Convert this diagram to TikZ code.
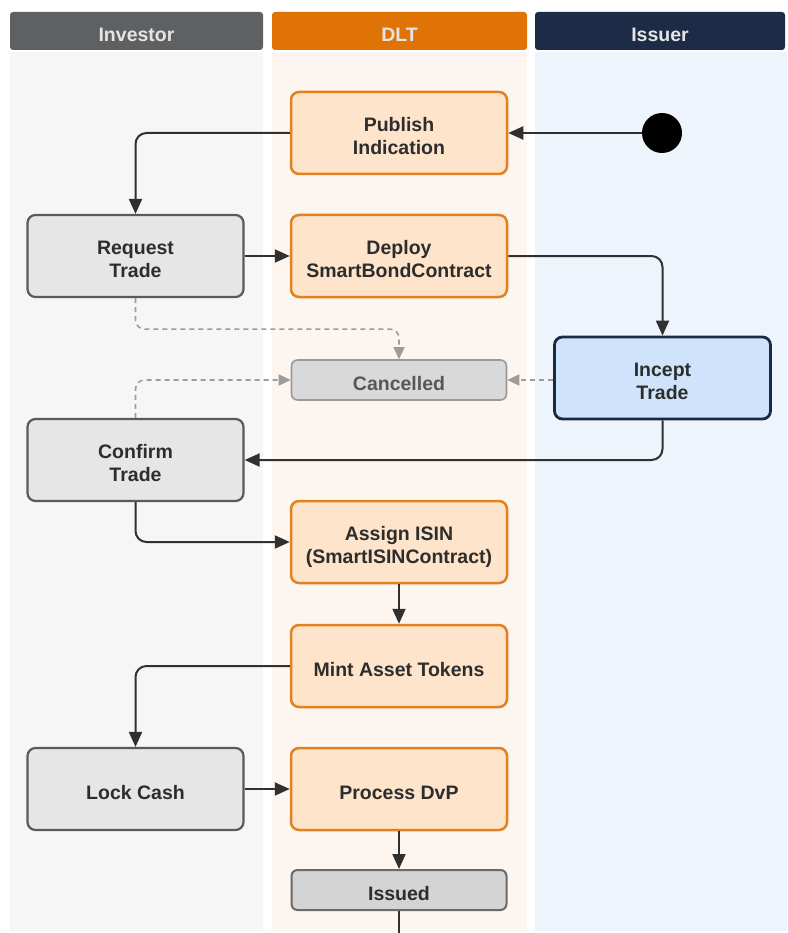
\documentclass[tikz,border=0pt]{standalone}
\usepackage{fontspec}
\setmainfont{Liberation Sans}
\usetikzlibrary{arrows.meta}

\definecolor{invhead}{HTML}{5F6062}
\definecolor{dlthead}{HTML}{E07306}
\definecolor{isshead}{HTML}{1C2B46}
\definecolor{invlane}{HTML}{F6F6F7}
\definecolor{dltlane}{HTML}{FDF5F0}
\definecolor{isslane}{HTML}{EEF4FC}
\definecolor{orfill}{HTML}{FDE4CA}
\definecolor{ordraw}{HTML}{E2821E}
\definecolor{gyfill}{HTML}{E6E6E6}
\definecolor{gydraw}{HTML}{5A5A5A}
\definecolor{cnfill}{HTML}{D9D9D9}
\definecolor{cndraw}{HTML}{9A9A9A}
\definecolor{bufill}{HTML}{CFE4FB}
\definecolor{budraw}{HTML}{1B2A40}
\definecolor{isfill}{HTML}{D4D4D4}
\definecolor{isdraw}{HTML}{6A6A6A}
\definecolor{wire}{HTML}{303030}
\definecolor{dwire}{HTML}{9C9C9C}
\definecolor{ink}{HTML}{2D2D2D}

% centred label, set a little below the geometric middle of its box
\newcommand\lbl[1]{\raisebox{-5.5pt}[\height][\depth]{\begin{tabular}{@{}c@{}}#1\end{tabular}}}

\tikzset{
  x=1pt, y=-1pt,
  txt/.style={font=\bfseries\fontsize{19.5}{23}\selectfont, text=ink},
  lanehead/.style={txt, rounded corners=3pt, minimum height=38pt, text=white!90!black, inner sep=0pt},
  box/.style={txt, rounded corners=8pt, minimum width=216pt, minimum height=82pt, inner sep=0pt},
  dltbox/.style={box, fill=orfill, draw=ordraw, line width=2.5pt},
  invbox/.style={box, fill=gyfill, draw=gydraw, line width=2.2pt},
  issbox/.style={box, fill=bufill, draw=budraw, line width=2.8pt},
  endstate/.style={txt, rounded corners=6pt, minimum width=215pt, minimum height=40pt, inner sep=0pt},
  flow/.style={draw=wire, line width=2pt, rounded corners=11pt, -{Triangle[length=15pt,width=13pt]}},
  dflow/.style={draw=dwire, line width=1.6pt, dash pattern=on 5pt off 4pt, rounded corners=9pt, -{Triangle[length=12pt,width=11pt]}},
}

\begin{document}
\begin{tikzpicture}
\useasboundingbox (0,0) rectangle (787,933);

% swimlane backgrounds
\fill[invlane] (10,52) rectangle (263,931);
\fill[dltlane] (272,52) rectangle (527,931);
\fill[isslane] (535,52) rectangle (787,931);

% swimlane headers
\node[lanehead, fill=invhead, minimum width=253pt] (hinv) at (136.5,31) {\lbl{Investor}};
\node[lanehead, fill=dlthead, minimum width=255pt] (hdlt) at (399.5,31) {\lbl{DLT}};
\node[lanehead, fill=isshead, minimum width=250pt] (hiss) at (660,31) {\lbl{Issuer}};

% states
\node[circle, fill=black, minimum size=40pt, inner sep=0pt] (start) at (662,133) {};
\node[dltbox] (pub) at (399,133) {\lbl{Publish\\Indication}};
\node[invbox] (req) at (135.5,256) {\lbl{Request\\Trade}};
\node[dltbox] (dep) at (399,256) {\lbl{Deploy\\SmartBondContract}};
\node[endstate, fill=cnfill, draw=cndraw, line width=1.6pt, text=ink!80] (can) at (399,380) {\lbl{Cancelled}};
\node[issbox] (inc) at (662.5,378) {\lbl{Incept\\Trade}};
\node[invbox] (conf) at (135.5,460) {\lbl{Confirm\\Trade}};
\node[dltbox] (isin) at (399,542) {\lbl{Assign ISIN\\(SmartISINContract)}};
\node[dltbox] (mint) at (399,666) {\lbl{Mint Asset Tokens}};
\node[invbox] (lock) at (135.5,789) {\lbl{Lock Cash}};
\node[dltbox] (dvp) at (399,789) {\lbl{Process DvP}};
\node[endstate, fill=isfill, draw=isdraw, line width=2pt] (iss) at (399,890) {\lbl{Issued}};
\coordinate (tail) at (399,933);

% transitions
\draw[flow] (start) -- (pub.east);
\draw[flow] (pub.west) -| (req.north);
\draw[flow] (req.east) -- (dep.west);
\draw[flow] (dep.east) -| (inc.north);
\draw[dflow] (req.south) -- ++(0,31) -| (can.north);
\draw[dflow] (can.east -| inc.west) -- (can.east);
\draw[dflow] (conf.north) |- (can.west);
\draw[flow] (inc.south) |- (conf.east);
\draw[flow] (conf.south) |- (isin.west);
\draw[flow] (isin) -- (mint);
\draw[flow] (mint.west) -| (lock.north);
\draw[flow] (lock) -- (dvp);
\draw[flow] (dvp) -- (iss);
\draw[draw=wire, line width=2pt] (iss.south) -- (tail);
\end{tikzpicture}
\end{document}
